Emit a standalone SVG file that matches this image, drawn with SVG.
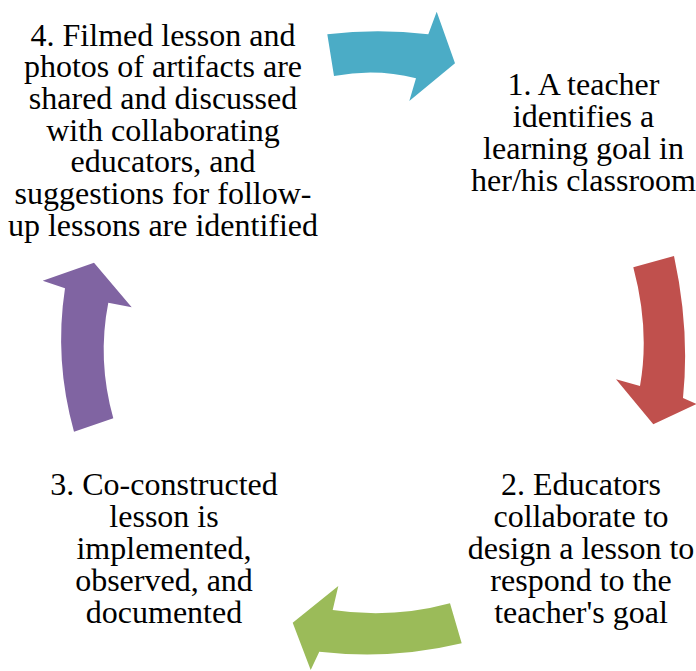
<svg xmlns="http://www.w3.org/2000/svg" width="696" height="671" viewBox="0 0 696 671">
<style>
text{font-family:"Liberation Serif";font-size:32px;fill:#000;text-anchor:middle}
</style>
<rect width="696" height="671" fill="#fff"/>
<g id="connectors">
<path d="M327.3,34.3 Q378,28 428.3,34.3 L436.7,11.7 L455,63.3 L409.3,101 L416,78.3 Q376,68 334,76 Z" fill="#4BACC6"/>
<path d="M633.3,267.3 L674,256 Q690,330 683,398 L696.5,404 L653.3,424.3 L616,379.3 L640,386 Q650,330 633.3,267.3 Z" fill="#C0504D"/>
<path d="M450,603.3 L461.7,643.3 Q392,660 319.3,651.7 L310.7,670 L292.7,622.7 L338.3,586 L332.7,610 Q392,619 450,603.3 Z" fill="#9BBB59"/>
<path d="M74,431.7 L113.3,418.3 Q97,360 108.3,302.7 L131.7,307.3 L94,262.7 L42.7,280.7 L65,288.3 Q54,360 74,431.7 Z" fill="#8064A2"/>
</g>
<g id="node1">
<text x="583.5" y="95">1. A teacher</text>
<text x="583.5" y="127">identifies a</text>
<text x="583.5" y="159">learning goal in</text>
<text x="583.5" y="191">her/his classroom</text>
</g>
<g id="node2">
<text x="581" y="495">2. Educators</text>
<text x="581" y="527">collaborate to</text>
<text x="581" y="559">design a lesson to</text>
<text x="581" y="591">respond to the</text>
<text x="581" y="623">teacher's goal</text>
</g>
<g id="node3">
<text x="164" y="495">3. Co-constructed</text>
<text x="164" y="527">lesson is</text>
<text x="164" y="559">implemented,</text>
<text x="164" y="591">observed, and</text>
<text x="164" y="623">documented</text>
</g>
<g id="node4">
<text x="163" y="45.5">4. Filmed lesson and</text>
<text x="163" y="77.2">photos of artifacts are</text>
<text x="163" y="108.9">shared and discussed</text>
<text x="163" y="140.6">with collaborating</text>
<text x="163" y="172.3">educators, and</text>
<text x="163" y="204">suggestions for follow-</text>
<text x="163" y="235.7">up lessons are identified</text>
</g>
</svg>
